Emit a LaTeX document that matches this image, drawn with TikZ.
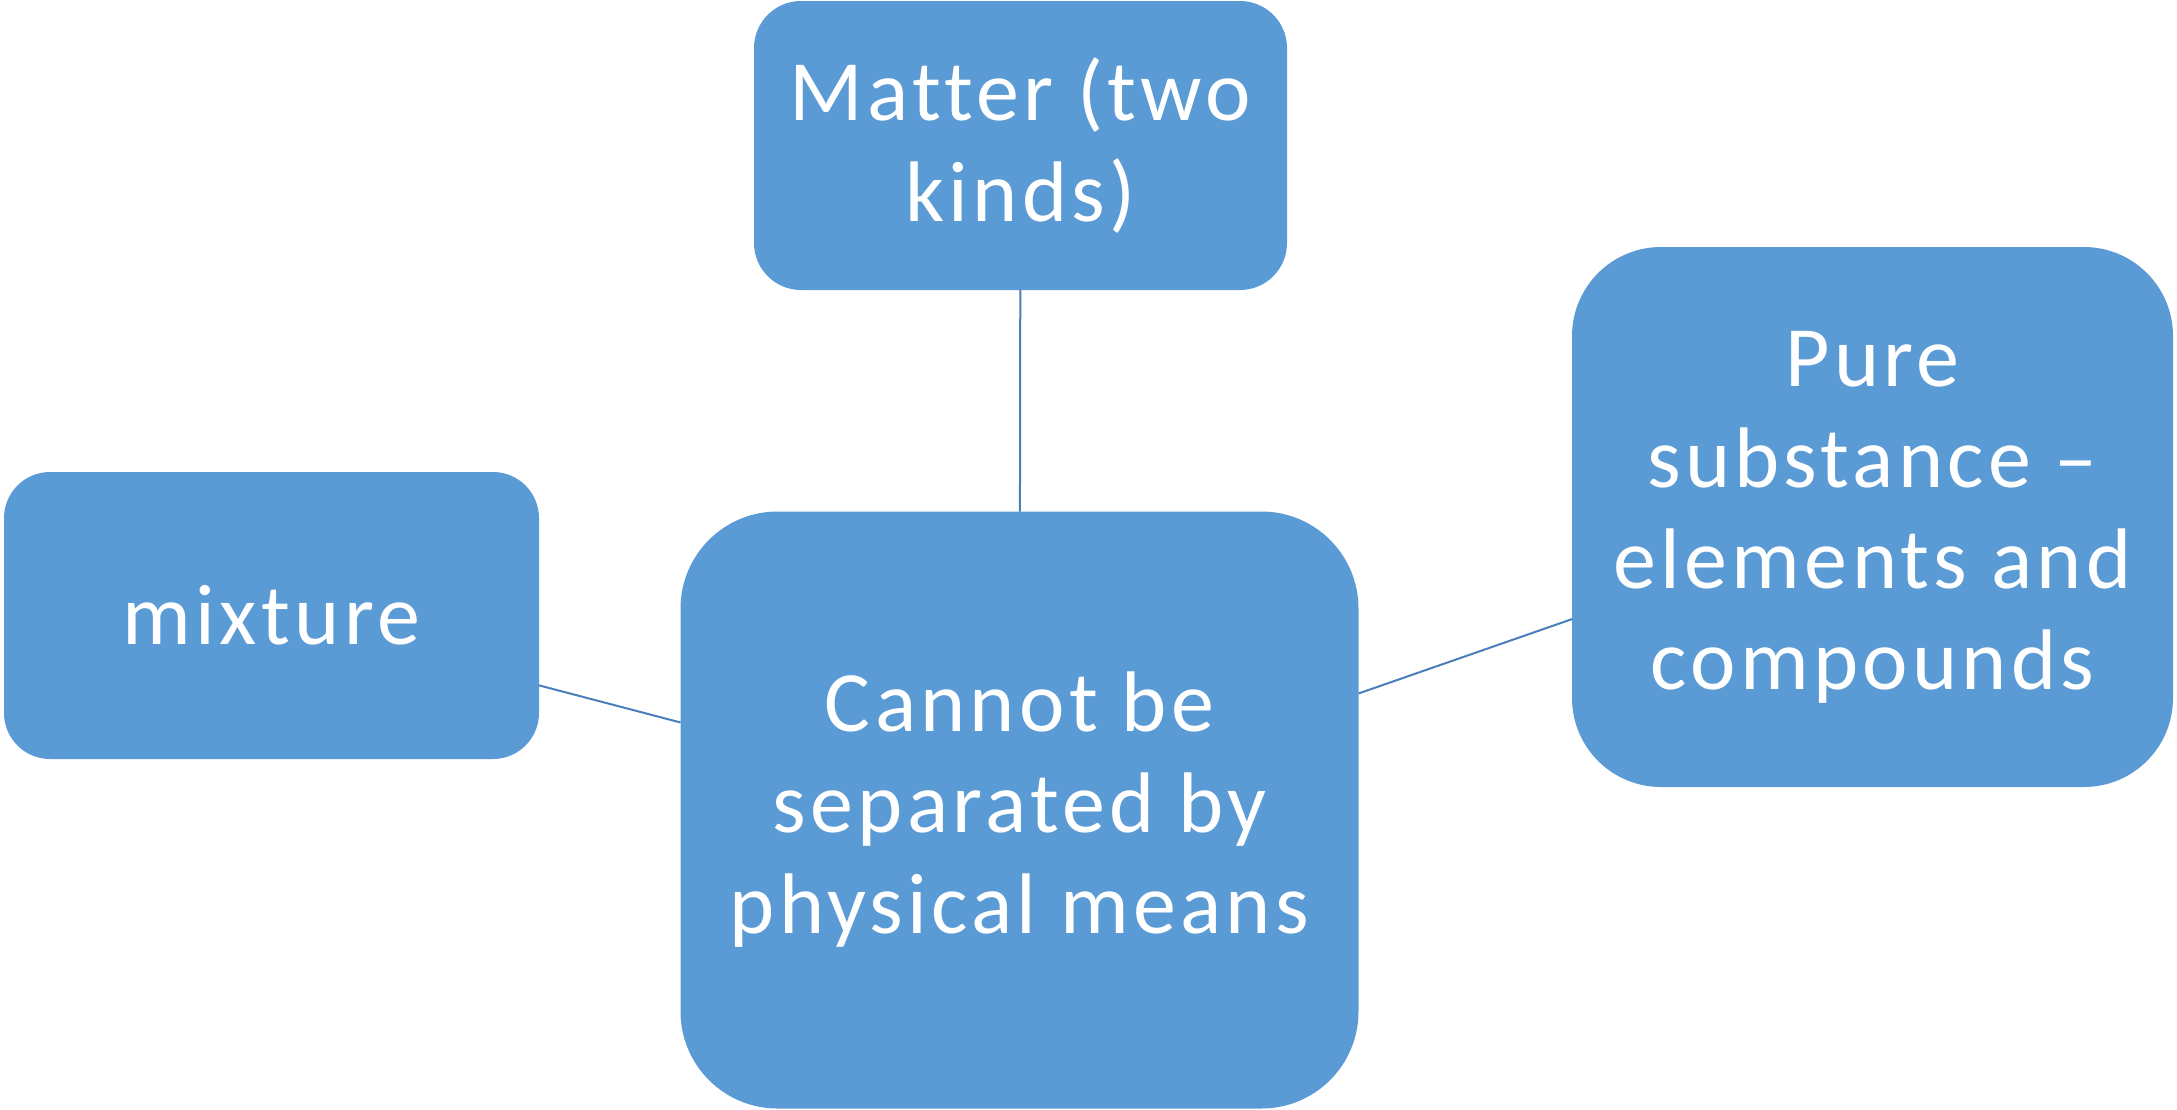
\documentclass[tikz,border=0pt]{standalone}
\usepackage{fontspec}
\setmainfont{Carlito}[LetterSpace=5,Ligatures=NoCommon]
\definecolor{boxfill}{HTML}{5B9BD5}
\definecolor{linkcol}{HTML}{4A7EBB}
\begin{document}
\begin{tikzpicture}[x=1pt,y=-1pt,
  blk/.style={rectangle, fill=boxfill, inner sep=0pt, outer sep=0pt, text=white,
    align=center, font=\fontsize{86}{101}\selectfont},
  link/.style={draw=linkcol, line width=2pt}]
\useasboundingbox (0,0) rectangle (2177,1109);
\node[blk, minimum width=533pt, minimum height=289pt, rounded corners=47pt] (matter) at (1020.5,145.5) {Matter (two\\kinds)};
\node[blk, minimum width=535pt, minimum height=287pt, rounded corners=46pt] (mix) at (271.5,615.5) {mixture};
\node[blk, minimum width=678pt, minimum height=597pt, rounded corners=97pt] (center) at (1019.5,810) {Cannot be\\separated by\\physical means};
\node[blk, minimum width=601pt, minimum height=540pt, rounded corners=89pt] (pure) at (1872.5,517) {Pure\\substance –\\elements and\\compounds};
\draw[link] (matter) -- (center);
\draw[link] (mix) -- (center);
\draw[link] (center) -- (pure);
\end{tikzpicture}
\end{document}
